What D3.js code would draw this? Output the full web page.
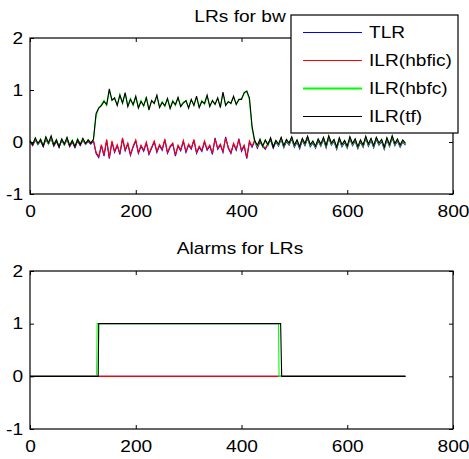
<!DOCTYPE html>
<html>
<head>
<meta charset="utf-8">
<script src="https://cdn.jsdelivr.net/npm/d3@7"></script>
<style>
  body { margin: 0; background: #fff; }
  text { font-family: "Liberation Sans", Arial, sans-serif; }
</style>
</head>
<body>
<div id="chart"></div>
<script>
// sample step of the LR series (one value every 5 samples, from 0 to 710)
const step = 5;

// LR values
const tlr = [
  0.01, -0.07, 0.04, -0.05, 0.02, -0.09, 0.05, -0.04, 0.07, -0.08,
  0.01, -0.10, 0.03, -0.06, 0.05, -0.09, 0.00, -0.11, 0.02, -0.07,
  0.04, -0.05, 0.01, -0.04, 0.02, -0.22, -0.30, -0.07, -0.27, 0.03,
  -0.32, 0.00, -0.20, -0.07, -0.24, 0.06, -0.17, -0.04, -0.26, -0.10,
  0.02, -0.22, -0.08, -0.18, -0.02, -0.24, -0.12, 0.00, -0.20, -0.07,
  -0.16, 0.04, -0.22, -0.10, -0.04, -0.27, -0.08, -0.17, 0.01, -0.20,
  -0.06, -0.14, 0.03, -0.22, -0.10, -0.18, 0.00, -0.16, -0.08, -0.24,
  0.08, -0.14, -0.06, -0.20, 0.10, -0.12, -0.22, -0.04, -0.16, 0.06,
  -0.18, -0.08, -0.32, 0.00, -0.10, 0.02, -0.12, 0.00, -0.08, -0.14,
  -0.05, 0.04, -0.12, 0.00, -0.08, 0.05, -0.11, 0.01, -0.06, 0.06,
  -0.10, 0.00, -0.13, 0.03, -0.07, 0.07, -0.09, -0.02, -0.12, 0.02,
  -0.08, 0.05, -0.11, 0.08, -0.06, 0.01, -0.14, 0.04, -0.09, -0.01,
  -0.12, 0.06, -0.07, 0.02, -0.13, 0.00, -0.10, 0.07, -0.08, 0.03,
  -0.11, 0.05, -0.06, 0.01, -0.14, 0.04, -0.09, 0.08, -0.07, 0.02,
  -0.10, 0.00, -0.06
];
const hbfic = [
  0.00, -0.06, 0.05, -0.04, 0.03, -0.08, 0.06, -0.03, 0.08, -0.07,
  0.02, -0.09, 0.04, -0.05, 0.06, -0.08, 0.01, -0.10, 0.03, -0.06,
  0.05, -0.04, 0.02, -0.03, 0.03, -0.20, -0.28, -0.05, -0.25, 0.05,
  -0.30, 0.02, -0.18, -0.05, -0.22, 0.08, -0.15, -0.02, -0.24, -0.08,
  0.04, -0.20, -0.06, -0.16, 0.00, -0.22, -0.10, 0.02, -0.18, -0.05,
  -0.14, 0.06, -0.20, -0.08, -0.02, -0.25, -0.06, -0.15, 0.03, -0.18,
  -0.04, -0.12, 0.05, -0.20, -0.08, -0.16, 0.02, -0.14, -0.06, -0.22,
  0.06, -0.12, -0.04, -0.18, 0.08, -0.10, -0.20, -0.02, -0.14, 0.04,
  -0.16, -0.06, -0.30, 0.02, -0.08, 0.04, -0.10, 0.02, -0.06, -0.12,
  -0.03, 0.06, -0.10, 0.02, -0.06, 0.07, -0.09, 0.03, -0.04, 0.08,
  -0.08, 0.02, -0.11, 0.05, -0.05, 0.09, -0.07, 0.00, -0.10, 0.04,
  -0.06, 0.07, -0.09, 0.10, -0.04, 0.03, -0.12, 0.06, -0.07, 0.01,
  -0.10, 0.08, -0.05, 0.04, -0.11, 0.02, -0.08, 0.09, -0.06, 0.05,
  -0.09, 0.07, -0.04, 0.03, -0.12, 0.06, -0.07, 0.10, -0.05, 0.04,
  -0.08, 0.02, -0.04
];
const hbfc = [
  0.03, -0.04, 0.07, -0.05, 0.06, -0.06, 0.09, -0.04, 0.10, -0.05,
  0.05, -0.08, 0.05, -0.06, 0.08, -0.05, 0.04, -0.08, 0.06, -0.03,
  0.06, -0.04, 0.05, -0.01, 0.04, 0.50, 0.66, 0.72, 0.80, 0.70,
  0.98, 0.82, 0.83, 0.72, 0.92, 0.74, 0.93, 0.70, 0.84, 0.70,
  0.86, 0.67, 0.80, 0.68, 0.87, 0.63, 0.78, 0.76, 0.88, 0.68,
  0.78, 0.68, 0.82, 0.66, 0.80, 0.70, 0.84, 0.70, 0.77, 0.78,
  0.67, 0.80, 0.72, 0.86, 0.68, 0.80, 0.72, 0.88, 0.70, 0.78,
  0.74, 0.83, 0.68, 0.94, 0.72, 0.76, 0.76, 0.86, 0.74, 0.80,
  0.84, 0.93, 0.97, 0.80, 0.25, 0.00, -0.08, 0.06, -0.10, 0.03,
  -0.07, 0.07, -0.08, 0.02, -0.06, 0.08, -0.09, 0.04, -0.04, 0.09,
  -0.08, 0.03, -0.10, 0.06, -0.05, 0.10, -0.07, 0.01, -0.10, 0.05,
  -0.06, 0.08, -0.09, 0.11, -0.04, 0.04, -0.12, 0.07, -0.07, 0.02,
  -0.10, 0.09, -0.05, 0.05, -0.11, 0.03, -0.08, 0.10, -0.06, 0.06,
  -0.09, 0.08, -0.04, 0.04, -0.12, 0.07, -0.07, 0.11, -0.05, 0.05,
  -0.08, 0.03, -0.04
];
const tf = [
  0.02, -0.05, 0.08, -0.03, 0.05, -0.08, 0.10, -0.02, 0.12, -0.06,
  0.04, -0.10, 0.06, -0.04, 0.09, -0.07, 0.03, -0.09, 0.05, -0.05,
  0.07, -0.03, 0.04, -0.02, 0.05, 0.55, 0.65, 0.70, 0.78, 0.72,
  1.02, 0.80, 0.85, 0.70, 0.90, 0.75, 0.95, 0.68, 0.82, 0.72,
  0.88, 0.65, 0.78, 0.70, 0.85, 0.62, 0.80, 0.74, 0.90, 0.66,
  0.76, 0.70, 0.84, 0.64, 0.78, 0.72, 0.86, 0.68, 0.75, 0.80,
  0.65, 0.82, 0.70, 0.88, 0.66, 0.78, 0.74, 0.90, 0.68, 0.80,
  0.72, 0.85, 0.66, 0.96, 0.70, 0.78, 0.74, 0.88, 0.72, 0.82,
  0.82, 0.95, 0.98, 0.85, 0.30, 0.02, -0.06, 0.05, -0.08, 0.04,
  -0.05, 0.08, -0.10, 0.03, -0.04, 0.09, -0.07, 0.05, -0.02, 0.10,
  -0.06, 0.04, -0.09, 0.07, -0.03, 0.11, -0.05, 0.02, -0.08, 0.06,
  -0.04, 0.09, -0.07, 0.12, -0.02, 0.05, -0.10, 0.08, -0.05, 0.03,
  -0.08, 0.10, -0.03, 0.06, -0.09, 0.04, -0.06, 0.11, -0.04, 0.07,
  -0.07, 0.09, -0.02, 0.05, -0.10, 0.08, -0.05, 0.12, -0.03, 0.06,
  -0.06, 0.04, -0.02
];

// alarm step points
const alarmTlrX = [0, 710];
const alarmTlrY = [0, 0];
const alarmHbficX = [0, 710];
const alarmHbficY = [0, 0];
const alarmHbfcX = [0, 126, 127, 470, 471, 710];
const alarmHbfcY = [0, 0, 1, 1, 0, 0];
const alarmTfX = [0, 129, 130, 474, 476, 710];
const alarmTfY = [0, 0, 1, 1, 0, 0];

const seriesNames = ["TLR", "ILR(hbfic)", "ILR(hbfc)", "ILR(tf)"];
const seriesColors = ["#0000ff", "#ff0000", "#00ff00", "#000000"];
const xTicks = [0, 200, 400, 600, 800];
const yTicks = [-1, 0, 1, 2];

const width = 469;
const height = 459;
const stretch = 1.16; // text in the picture is a bit wider than plain Arial
const fontSize = 16.5;

const svg = d3.select("#chart")
  .append("svg")
    .attr("width", width)
    .attr("height", height);

const xScale = d3.scaleLinear().domain([0, 800]).range([30, 453]);

const addText = (x, y, str, anchor) => {
  svg.append("text")
    .attr("transform", `translate(${x},${y}) scale(${stretch},1)`)
    .attr("text-anchor", anchor)
    .style("font-size", fontSize + "px")
    .text(str);
};

const drawAxes = (top, bottom, title, titleY, lines) => {
  const yScale = d3.scaleLinear().domain([-1, 2]).range([bottom, top]);
  const g = svg.append("g");

  g.append("rect")
    .attr("x", 30).attr("y", top)
    .attr("width", 423).attr("height", bottom - top)
    .attr("fill", "#fff");

  // lines
  const line = d3.line().x(d => xScale(d[0])).y(d => yScale(d[1]));
  lines.forEach((pts, i) => {
    g.append("path")
      .datum(pts)
      .attr("d", line)
      .attr("fill", "none")
      .attr("stroke", seriesColors[i])
      .attr("stroke-width", 1.1);
  });

  // inward ticks on all four sides, plain hyphen for negatives
  const fmt = d => String(d);
  const styleAxis = sel => {
    sel.select(".domain").remove();
    sel.selectAll("line").attr("stroke", "#000");
  };
  const styleLabels = sel => sel.selectAll("text")
    .attr("transform", `scale(${stretch},1)`)
    .style("font-size", fontSize + "px")
    .style("font-family", '"Liberation Sans", Arial, sans-serif')
    .attr("fill", "#000");

  g.append("g").attr("transform", `translate(0,${bottom})`)
    .call(d3.axisBottom(xScale).tickValues(xTicks).tickFormat(fmt)
      .tickSizeInner(-4).tickSizeOuter(0).tickPadding(11))
    .call(styleAxis)
    .call(styleLabels);
  g.append("g").attr("transform", `translate(0,${top})`)
    .call(d3.axisTop(xScale).tickValues(xTicks).tickSizeInner(-4).tickSizeOuter(0).tickFormat(""))
    .call(styleAxis);
  g.append("g").attr("transform", "translate(30,0)")
    .call(d3.axisLeft(yScale).tickValues(yTicks).tickFormat(fmt)
      .tickSizeInner(-4).tickSizeOuter(0).tickPadding(6))
    .call(styleAxis)
    .call(styleLabels);
  g.append("g").attr("transform", "translate(453,0)")
    .call(d3.axisRight(yScale).tickValues(yTicks).tickSizeInner(-4).tickSizeOuter(0).tickFormat(""))
    .call(styleAxis);

  g.append("rect")
    .attr("x", 30).attr("y", top)
    .attr("width", 423).attr("height", bottom - top)
    .attr("fill", "none")
    .attr("stroke", "#000")
    .attr("stroke-width", 1.2);

  addText(240, titleY, title, "middle");
};

// top plot: LRs
const toPoints = arr => arr.map((v, i) => [i * step, v]);
drawAxes(38, 194, "LRs for bw", 21.5, [tlr, hbfic, hbfc, tf].map(toPoints));

// bottom plot: alarms
const zipXY = (xs, ys) => xs.map((x, i) => [x, ys[i]]);
drawAxes(271, 429, "Alarms for LRs", 254, [
  zipXY(alarmTlrX, alarmTlrY),
  zipXY(alarmHbficX, alarmHbficY),
  zipXY(alarmHbfcX, alarmHbfcY),
  zipXY(alarmTfX, alarmTfY)
]);

// legend
const legend = svg.append("g");
legend.append("rect")
  .attr("x", 291).attr("y", 15)
  .attr("width", 167).attr("height", 118)
  .attr("fill", "#fff")
  .attr("stroke", "#000")
  .attr("stroke-width", 1.2);
const legendY = d3.scalePoint().domain(seriesNames).range([32, 116]);
seriesNames.forEach((name, i) => {
  legend.append("line")
    .attr("x1", 303).attr("x2", 362)
    .attr("y1", legendY(name) + 0.5).attr("y2", legendY(name) + 0.5)
    .attr("stroke", seriesColors[i])
    .attr("stroke-width", i === 2 ? 2 : 1);
  addText(369, legendY(name) + 6, name, "start");
});
</script>
</body>
</html>
